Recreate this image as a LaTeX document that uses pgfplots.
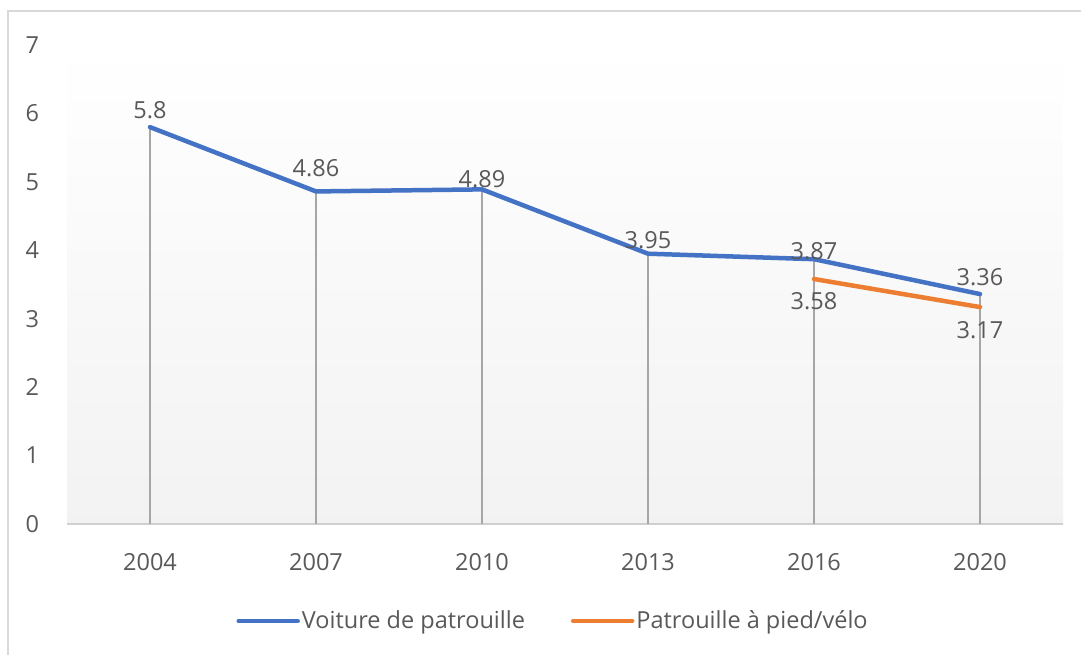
\documentclass[border=0pt]{standalone}
\usepackage{pgfplots}
\pgfplotsset{compat=1.18}
\usepackage{pgfplotstable}
\usepackage{fontspec}
\setmainfont{Open Sans}
\definecolor{txt}{HTML}{595959}
\definecolor{blu}{HTML}{4472C4}
\definecolor{org}{HTML}{ED7D31}
\definecolor{drop}{HTML}{A6A6A6}
\definecolor{frm}{HTML}{D9D9D9}
\definecolor{axl}{HTML}{D0D0D0}
\pgfplotstableread{
x y dy lab
0 5.80 17 5.8
1 4.86 23 4.86
2 4.89 10 4.89
3 3.95 14 3.95
4 3.87 8 3.87
5 3.36 17 3.36
}\voiture
\pgfplotstableread{
x y dy lab
4 3.58 -22 3.58
5 3.17 -23 3.17
}\pied
\begin{document}
\fontsize{23.5}{28}\selectfont
\begin{tikzpicture}[x=1pt,y=1pt]
\path[use as bounding box] (0,0) rectangle (1081,655);
\draw[frm, line width=1.5pt] (8,0) -- (8,644) -- (1081,644);
\begin{axis}[
  at={(67pt,131pt)}, anchor=south west,
  scale only axis, width=996pt, height=479pt,
  xmin=-0.5, xmax=5.5, ymin=0, ymax=7,
  xtick={0,...,5}, xticklabels={2004,2007,2010,2013,2016,2020},
  ytick={0,...,7},
  axis lines*=left,
  y axis line style={draw=none},
  x axis line style={draw=axl, line width=1.5pt},
  major tick length=0pt,
  tick style={draw=none},
  /pgf/number format/assume math mode=true,
  tick label style={text=txt},
  yticklabel style={xshift=-20pt},
  xticklabel style={yshift=-21pt},
  axis background/.style={shade, top color=white, bottom color=black!5},
  clip=false,
  legend columns=2,
  legend style={at={(0.488,-0.2025)}, anchor=center, draw=none, fill=none,
    text=txt, inner sep=0pt,
    /tikz/every even column/.append style={column sep=44pt}},
  legend image code/.code={\draw[#1, line width=4.5pt, line cap=round] (0pt,0pt) -- (59pt,0pt);},
  legend cell align=left,
]
\addplot[ycomb, drop, line width=1.5pt, forget plot] table[x=x, y=y] {\voiture};
\addplot[blu, line width=4.5pt, line cap=round, line join=round,
  point meta=explicit symbolic,
  visualization depends on={\thisrow{dy} \as \dy},
  nodes near coords,
  nodes near coords style={anchor=center, yshift=\dy pt, text=txt, inner sep=0pt}]
  table[x=x, y=y, meta=lab] {\voiture};
\addlegendentry{Voiture de patrouille}
\addplot[org, line width=4.5pt, line cap=round, line join=round,
  point meta=explicit symbolic,
  visualization depends on={\thisrow{dy} \as \dy},
  nodes near coords,
  nodes near coords style={anchor=center, yshift=\dy pt, text=txt, inner sep=0pt}]
  table[x=x, y=y, meta=lab] {\pied};
\addlegendentry{Patrouille à pied/vélo}
\end{axis}
\end{tikzpicture}
\end{document}
